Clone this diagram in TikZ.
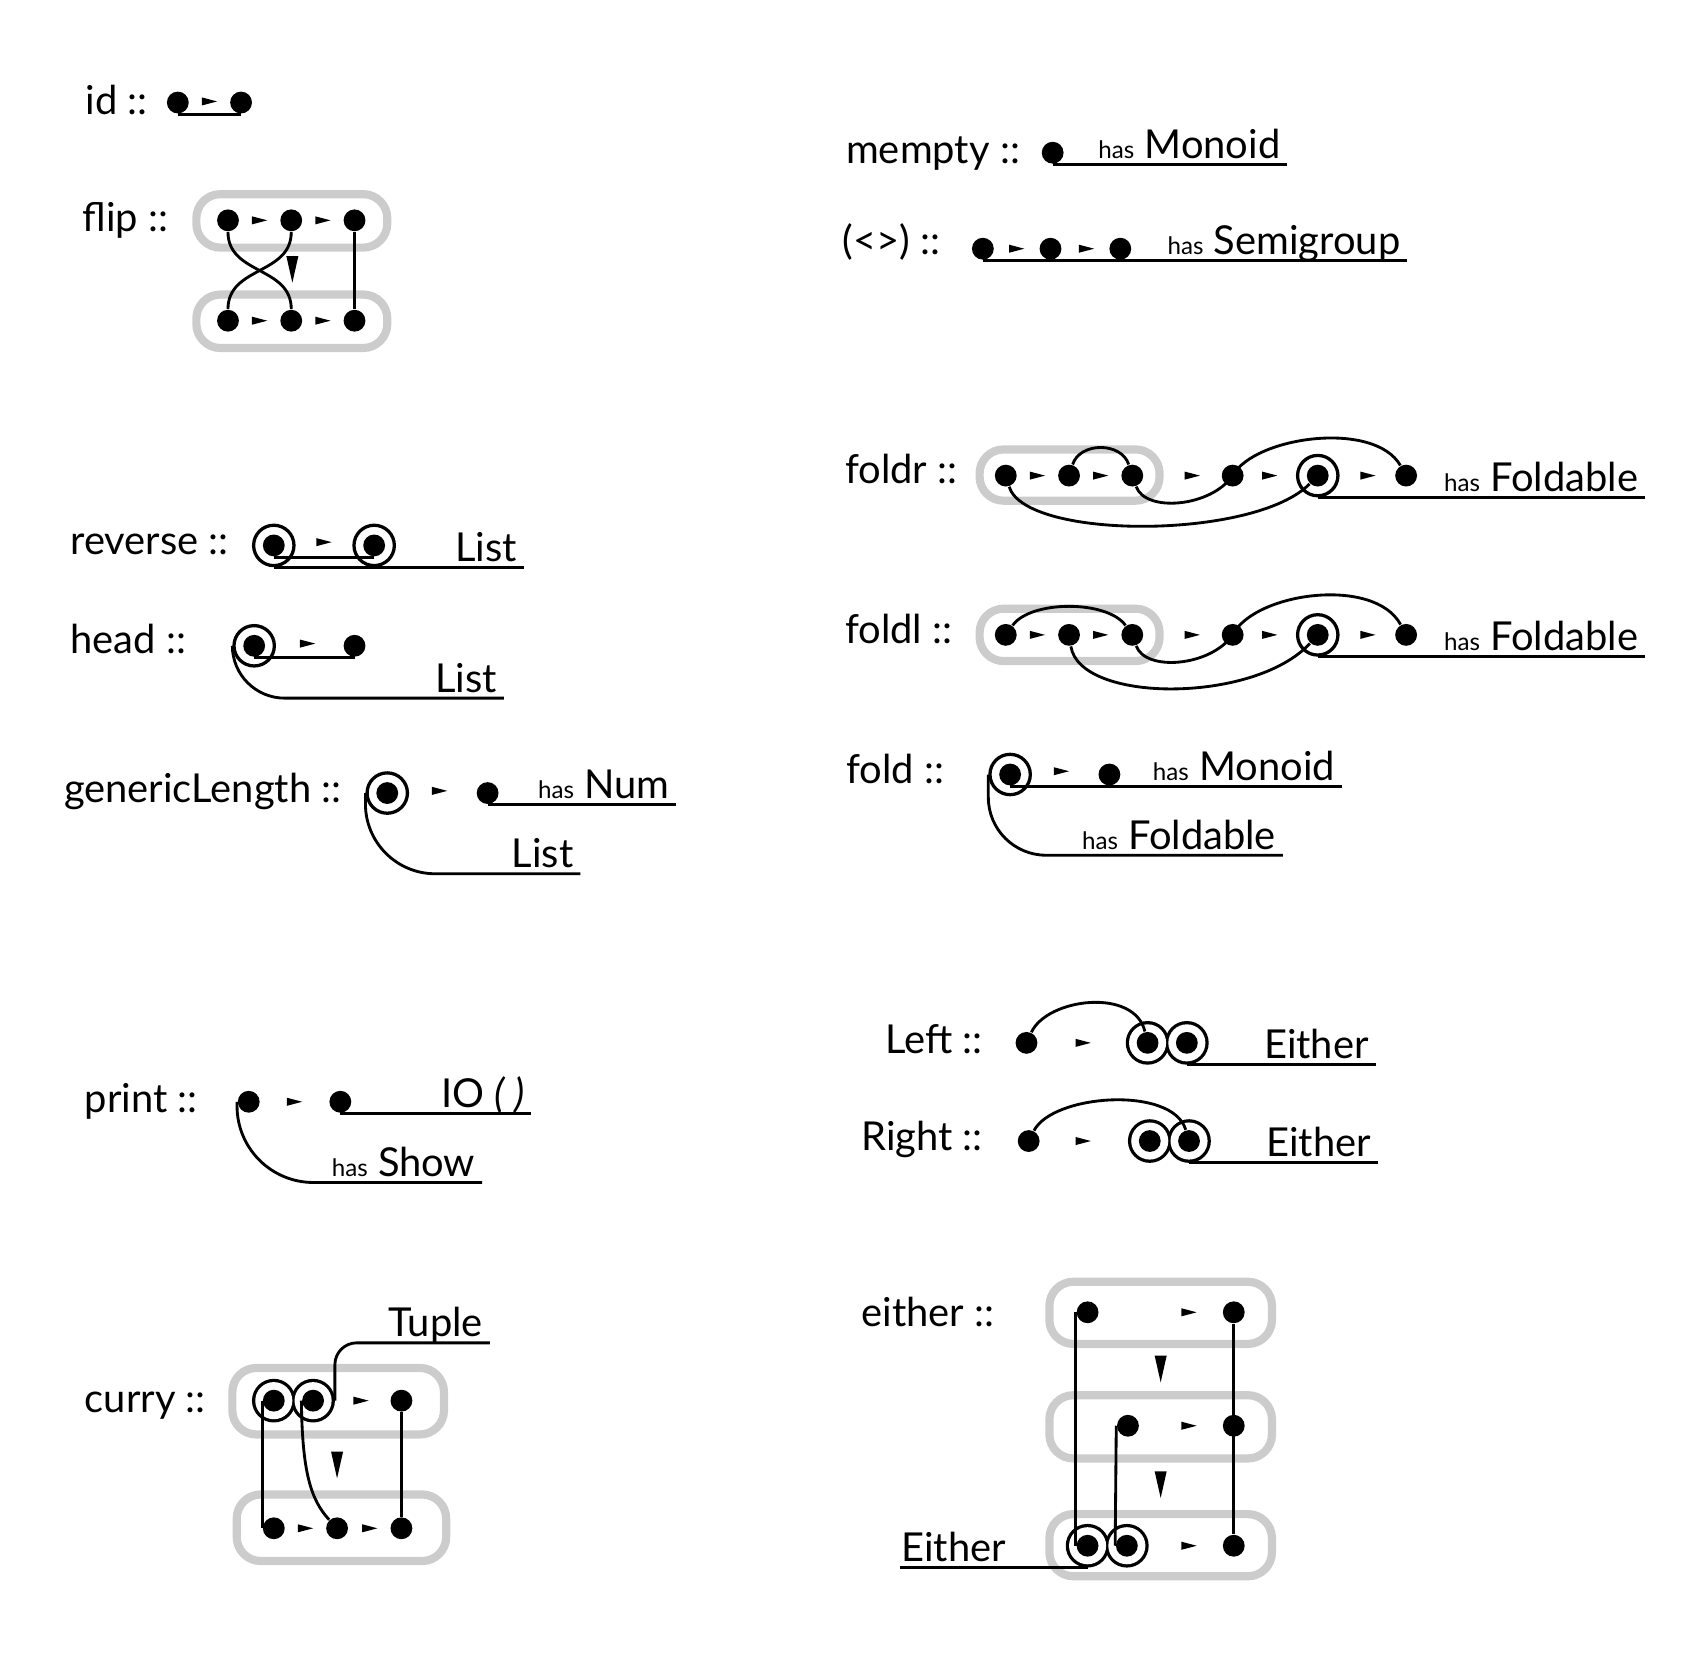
\documentclass[tikz,border=0pt]{standalone}
\usepackage{fontspec}
\setmainfont{Lato}
\usetikzlibrary{shapes.geometric, positioning}

\newcommand\has{{\fontsize{6.3}{7}\selectfont has}\ }

\begin{document}
\begin{tikzpicture}[x=0.1mm, y=-0.1mm]

    \tikzstyle{dot} = [circle, fill=black, inner sep=0pt, minimum size=2mm]
    \tikzstyle{ring} = [circle, draw=black, line width=0.3mm, inner sep=0pt, minimum size=3.7mm]
    \tikzstyle{pairbg} = [circle, draw=black, line width=0.6mm, inner sep=0pt, minimum size=3.4mm]
    \tikzstyle{pairfg} = [circle, fill=white, inner sep=0pt, minimum size=3.4mm]
    \tikzstyle{tray} = [draw=black!20, line width=0.75mm, rounded corners=2.2mm]
    \tikzstyle{wire} = [line width=0.26mm]
    \tikzstyle{fname} = [anchor=base west, inner sep=0pt, font=\fontsize{10.4}{13}\selectfont]
    \tikzstyle{tyname} = [anchor=base east, inner sep=0pt, xshift=-0.5mm, yshift=0.55mm, font=\fontsize{10.4}{13}\selectfont]
    \tikzset{
        tipr/.pic={\fill (-0.7mm,-0.37mm) -- (0.7mm,0mm) -- (-0.7mm,0.37mm) -- cycle;},
        tipd/.pic={\fill (-0.55mm,1.22mm) -- (0.55mm,1.22mm) -- (0mm,-1.22mm) -- cycle;}
    }

    \useasboundingbox (0,0) rectangle (1563,1526);

    % id
    \node[fname] (idn) at (78,105) {id ::};
    \node[dot] (id1) at (163,94) {};
    \node[dot] (id2) at (221,94) {};
    \pic at (192,93) {tipr};
    \draw[wire] (id1.south) -- (id2.south);

    % flip
    \node[fname] (fpn) at (75,212) {flip ::};
    \draw[tray] (180,178) rectangle (355,227);
    \draw[tray] (180,270) rectangle (355,319);
    \node[dot] (fpt1) at (209,202) {};
    \node[dot] (fpt2) at (267,202) {};
    \node[dot] (fpt3) at (325,202) {};
    \node[dot] (fpb1) at (209,294) {};
    \node[dot] (fpb2) at (267,294) {};
    \node[dot] (fpb3) at (325,294) {};
    \pic at (238,202) {tipr};
    \pic at (296,202) {tipr};
    \pic at (238,294) {tipr};
    \pic at (296,294) {tipr};
    \pic at (268,247) {tipd};
    \draw[wire] (fpt1) .. controls (209,252) and (267,244) .. (fpb2);
    \draw[wire] (fpt2) .. controls (267,252) and (209,244) .. (fpb1);
    \draw[wire] (fpt3) -- (fpb3);

    % mempty
    \node[fname] (men) at (775,150) {mempty ::};
    \node[dot] (me1) at (965,140) {};
    \coordinate (meE) at (1180,149);
    \draw[wire] (me1.south) -- (me1.south -| meE) node[tyname] (mem) {\has Monoid};

    % (<>)
    \node[fname] (sgn) at (772,233) {(<>) ::};
    \node[dot] (sg1) at (901,228) {};
    \node[dot] (sg2) at (963,228) {};
    \node[dot] (sg3) at (1027,228) {};
    \pic at (932,228) {tipr};
    \pic at (996,228) {tipr};
    \coordinate (sgE) at (1290,237);
    \draw[wire] (sg1.south) -- (sg1.south -| sgE) node[tyname] (sgm) {\has Semigroup};

    % reverse
    \node[fname] (rvn) at (64,508) {reverse ::};
    \node[ring] (rvR1) at (251,500) {};
    \node[dot] (rv1) at (rvR1) {};
    \node[ring] (rvR2) at (343,500) {};
    \node[dot] (rv2) at (rvR2) {};
    \pic at (297,497) {tipr};
    \draw[wire] (rv1.south) -- (rv2.south);
    \coordinate (rvE) at (480,519);
    \draw[wire] (rvR1.south) -- (rvR1.south -| rvE) node[tyname] (rvl) {List};

    % head
    \node[fname] (hdn) at (64,599) {head ::};
    \node[ring] (hdR) at (233,592) {};
    \node[dot] (hd1) at (hdR) {};
    \node[dot] (hd2) at (325,592) {};
    \pic at (282,590) {tipr};
    \draw[wire] (hd1.south) -- (hd2.south);
    \coordinate (hdE) at (462,640);
    \draw[wire, rounded corners=4.8mm] (hdR.west) |- (hdE) node[tyname] (hdl) {List};

    % genericLength
    \node[fname] (gln) at (58,736) {genericLength ::};
    \node[ring] (glR) at (355,727) {};
    \node[dot] (gl1) at (glR) {};
    \node[dot] (gl2) at (447,727) {};
    \pic at (403,725) {tipr};
    \coordinate (glE1) at (620,736);
    \draw[wire] (gl2.south) -- (gl2.south -| glE1) node[tyname] (glm) {\has Num};
    \coordinate (glE2) at (532,801);
    \draw[wire, rounded corners=6.4mm] (glR.west) |- (glE2) node[tyname] (gll) {List};

    % foldr
    \node[fname] (frn) at (774,443) {foldr ::};
    \draw[tray] (898,412) rectangle (1063,459);
    \node[dot] (fr1) at (922,436) {};
    \node[dot] (fr2) at (980,436) {};
    \node[dot] (fr3) at (1038,436) {};
    \node[dot] (fr4) at (1130,436) {};
    \node[ring] (frR) at (1208,436) {};
    \node[dot] (fr5) at (frR) {};
    \node[dot] (fr6) at (1289,436) {};
    \foreach \x in {951,1009,1093,1164,1254} \pic at (\x,436) {tipr};
    \draw[wire] (fr2) .. controls (990,405) and (1028,405) .. (fr3);
    \draw[wire] (fr3) .. controls (1050,470) and (1110,465) .. (fr4.center)
                      .. controls (1150,400) and (1260,385) .. (fr6);
    \draw[wire] (fr1) .. controls (940,495) and (1150,495) .. (fr5);
    \coordinate (frE) at (1508,455);
    \draw[wire] (frR.south) -- (frR.south -| frE) node[tyname] (frm) {\has Foldable};

    % foldl
    \node[fname] (fln) at (774,590) {foldl ::};
    \draw[tray] (898,558) rectangle (1063,606);
    \node[dot] (fl1) at (922,582) {};
    \node[dot] (fl2) at (980,582) {};
    \node[dot] (fl3) at (1038,582) {};
    \node[dot] (fl4) at (1130,582) {};
    \node[ring] (flR) at (1208,582) {};
    \node[dot] (fl5) at (flR) {};
    \node[dot] (fl6) at (1289,582) {};
    \foreach \x in {951,1009,1093,1164,1254} \pic at (\x,582) {tipr};
    \draw[wire] (fl1) .. controls (945,550) and (1015,550) .. (fl3);
    \draw[wire] (fl3) .. controls (1050,616) and (1110,611) .. (fl4.center)
                      .. controls (1150,543) and (1260,528) .. (fl6);
    \draw[wire] (fl2) .. controls (990,645) and (1150,645) .. (fl5);
    \coordinate (flE) at (1508,601);
    \draw[wire] (flR.south) -- (flR.south -| flE) node[tyname] (flm) {\has Foldable};

    % fold
    \node[fname] (fon) at (775,718) {fold ::};
    \node[ring] (foR) at (926,710) {};
    \node[dot] (fo1) at (foR) {};
    \node[dot] (fo2) at (1017,710) {};
    \pic at (973,707) {tipr};
    \coordinate (foE1) at (1230,719);
    \draw[wire] (fo1.south) -- (fo1.south -| foE1) node[tyname] (fom) {\has Monoid};
    \coordinate (foE2) at (1176,784);
    \draw[wire, rounded corners=5.3mm] (foR.west) |- (foE2) node[tyname] (fof) {\has Foldable};

    % print
    \node[fname] (prn) at (77,1020) {print ::};
    \node[dot] (pr1) at (228,1010) {};
    \node[dot] (pr2) at (312,1010) {};
    \pic at (270,1010) {tipr};
    \coordinate (prE1) at (487,1019);
    \draw[wire] (pr2.south) -- (pr2.south -| prE1) node[tyname] (prio) {IO \textit{( )}};
    \coordinate (prE2) at (442,1084);
    \draw[wire, rounded corners=7mm] (pr1.west) |- (prE2) node[tyname] (prs) {\has Show};

    % curry
    \node[fname] (cun) at (77,1295) {curry ::};
    \draw[tray] (213,1254) rectangle (407,1315);
    \draw[tray] (217,1370) rectangle (409,1431);
    \node[pairbg] (cuA) at (251,1284) {};
    \node[pairbg] (cuB) at (287,1284) {};
    \node[pairfg] at (cuA) {};
    \node[pairfg] at (cuB) {};
    \node[dot] (cu1) at (cuA) {};
    \node[dot] (cu2) at (cuB) {};
    \node[dot] (cu3) at (368,1284) {};
    \pic at (331,1284) {tipr};
    \node[dot] (cb1) at (251,1401) {};
    \node[dot] (cb2) at (309,1401) {};
    \node[dot] (cb3) at (368,1401) {};
    \pic at (280,1401) {tipr};
    \pic at (339,1401) {tipr};
    \pic at (309,1343) {tipd};
    \draw[wire] (cu1.west) -- (cb1.west);
    \draw[wire] (cu3) -- (cb3);
    \draw[wire] (cu2.west) .. controls (277,1350) and (285,1375) .. (cb2);
    \coordinate (tpE) at (449,1231);
    \draw[wire, rounded corners=2mm] (cuB.east) |- (tpE) node[tyname] (tpl) {Tuple};

    % Left
    \node[fname] (lfn) at (811,966) {Left ::};
    \node[dot] (lf1) at (941,956) {};
    \pic at (993,956) {tipr};
    \node[pairbg] (lfA) at (1052,956) {};
    \node[pairbg] (lfB) at (1088,956) {};
    \node[pairfg] at (lfA) {};
    \node[pairfg] at (lfB) {};
    \node[dot] (lf2) at (lfA) {};
    \node[dot] (lf3) at (lfB) {};
    \draw[wire] (lf1) .. controls (960,915) and (1040,905) .. (lf2);
    \coordinate (lfE) at (1261,975);
    \draw[wire] (lfB.south) -- (lfB.south -| lfE) node[tyname] (lfe) {Either};

    % Right
    \node[fname] (rtn) at (789,1055) {Right ::};
    \node[dot] (rt1) at (943,1046) {};
    \pic at (993,1046) {tipr};
    \node[pairbg] (rtA) at (1054,1046) {};
    \node[pairbg] (rtB) at (1090,1046) {};
    \node[pairfg] at (rtA) {};
    \node[pairfg] at (rtB) {};
    \node[dot] (rt2) at (rtA) {};
    \node[dot] (rt3) at (rtB) {};
    \draw[wire] (rt1) .. controls (965,1003) and (1075,995) .. (rt3);
    \coordinate (rtE) at (1263,1065);
    \draw[wire] (rtB.south) -- (rtB.south -| rtE) node[tyname] (rte) {Either};

    % either
    \node[fname] (ein) at (789,1216) {either ::};
    \draw[tray] (962,1175) rectangle (1166,1232);
    \draw[tray] (962,1279) rectangle (1166,1337);
    \draw[tray] (962,1388) rectangle (1166,1445);
    \node[dot] (et1) at (997,1203) {};
    \node[dot] (et2) at (1131,1203) {};
    \node[dot] (em1) at (1034,1307) {};
    \node[dot] (em2) at (1131,1307) {};
    \node[pairbg] (ebA) at (997,1417) {};
    \node[pairbg] (ebB) at (1033,1417) {};
    \node[pairfg] at (ebA) {};
    \node[pairfg] at (ebB) {};
    \node[dot] (eb1) at (ebA) {};
    \node[dot] (eb2) at (ebB) {};
    \node[dot] (eb3) at (1131,1417) {};
    \foreach \y in {1203,1307,1417} \pic at (1090,\y) {tipr};
    \pic at (1064,1255) {tipd};
    \pic at (1064,1361) {tipd};
    \draw[wire] (et1.west) -- (eb1.west);
    \draw[wire] (em1.west) -- (eb2.west);
    \draw[wire] (et2) -- (eb3);
    \coordinate (ebE) at (825,1436);
    \draw[wire] (ebA.south) -- (ebA.south -| ebE)
        node[anchor=base west, inner sep=0pt, yshift=0.55mm, font=\fontsize{10.4}{13}\selectfont] (ebl) {Either};

\end{tikzpicture}
\end{document}
